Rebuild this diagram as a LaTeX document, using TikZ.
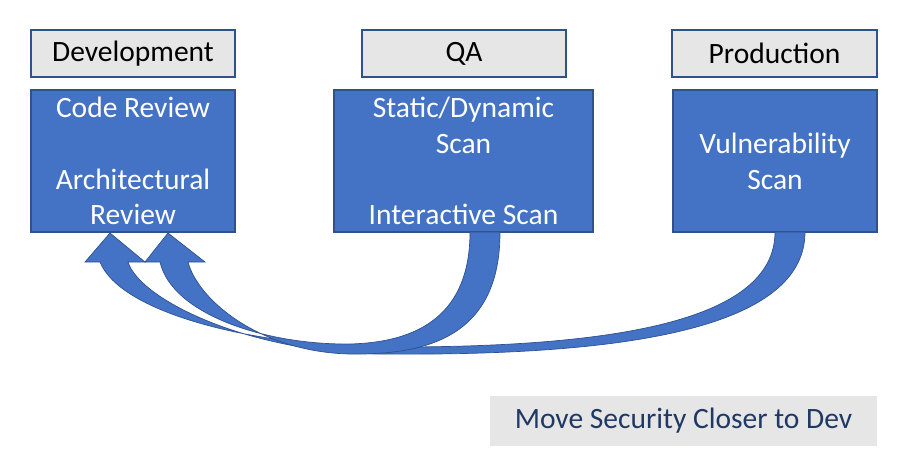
\documentclass[tikz,border=0pt]{standalone}
\usepackage{fontspec}
\setmainfont{Carlito}
\definecolor{pblue}{HTML}{4472C4}
\definecolor{pedge}{HTML}{2F528F}
\definecolor{pgray}{HTML}{E7E6E6}
\definecolor{pnavy}{HTML}{1F3864}
\tikzset{
  stage/.style={draw=pedge,fill=pgray,thick,minimum height=0.94cm,inner sep=0pt,
    font=\fontsize{16.8}{18}\selectfont},
  task/.style={draw=pedge,fill=pblue,thick,text=white,minimum height=2.84cm,inner sep=0pt,
    align=center,font=\fontsize{16.8}{20.4}\selectfont},
  curvy/.style={fill=pblue,draw=pedge,thin}
}
\begin{document}
\begin{tikzpicture}[x=0.02cm,y=-0.02cm]
\useasboundingbox (0,0) rectangle (912,470);
\node[stage,minimum width=4.08cm] (dev) at (133,53.5) {Development};
\node[stage,minimum width=4.08cm] (qa) at (464,53.5) {QA};
\node[stage,minimum width=4.1cm] (prod) at (774.5,53.5) {Production};
\node[task,minimum width=4.08cm] (devtask) at (133,161) {Code Review\\ \\Architectural\\Review};
\node[task,minimum width=5.18cm] (qatask) at (463.5,161) {Static/Dynamic\\Scan\\ \\Interactive Scan};
\node[task,minimum width=4.08cm] (prodtask) at (775,161) {Vulnerability\\Scan};
\node[fill=pgray,minimum width=7.74cm,minimum height=1cm,text=pnavy,
  font=\fontsize{16.8}{18}\selectfont] (moto) at (683.5,421) {Move Security Closer to Dev};

% curved arrow from production
\draw[curvy] (805,232) .. controls (805,335) and (600,356) .. (380,354)
  .. controls (250,353) and (140,300) .. (128,262)
  -- (145,262) -- (110,233) -- (85,262) -- (100,262)
  .. controls (120,312) and (250,346) .. (380,347)
  .. controls (600,348) and (775,325) .. (775,232) -- cycle;
% curved arrow from qa
\draw[curvy] (500,232) .. controls (500,335) and (430,355) .. (350,354)
  .. controls (260,352) and (198,300) .. (188,262)
  -- (205,262) -- (168,233) -- (145,262) -- (160,262)
  .. controls (172,314) and (265,345) .. (350,344)
  .. controls (430,342) and (470,305) .. (470,232) -- cycle;
\end{tikzpicture}
\end{document}
